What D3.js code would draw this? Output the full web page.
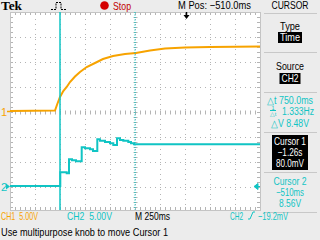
<!DOCTYPE html>
<html>
<head>
<meta charset="utf-8">
<script src="https://cdn.jsdelivr.net/npm/d3@7"></script>
<style>
body{margin:0;background:#ececec;}
svg{display:block;font-family:"Liberation Sans",Arial,sans-serif;}
svg text{white-space:pre;}
</style>
</head>
<body>
<svg width="320" height="240"></svg>
<script>
// CH1 (orange) samples: seconds, volts
const ch1Time  = [-1.76, -1.31, -1.287, -1.26, -1.227, -1.193, -1.16, -1.11, -1.06, -0.993, -0.91, -0.83, -0.73, -0.61, -0.50, -0.36, -0.21, -0.01, 0.24, 0.74];
const ch1Volts = [0.1, 0.2, 1.5, 2.9, 4.1, 4.9, 5.9, 7.0, 7.9, 8.9, 9.7, 10.5, 11.1, 11.5, 11.7, 12.2, 12.6, 12.8, 12.9, 13.0];

// CH2 (cyan) step trace: each level holds until the next time
const ch2Time  = [-1.76, -1.257, -1.193, -1.17, -1.14, -1.10, -1.043, -1.01, -0.96, -0.93, -0.887, -0.86, -0.81, -0.76, -0.727, -0.69, -0.66, -0.627, -0.577, -0.55, -0.52, 0.74];
const ch2Volts = [0.08, 2.84, 2.64, 5.44, 5.24, 5.04, 7.84, 7.64, 7.44, 7.1, 9.44, 9.16, 8.9, 8.64, 8.3, 9.64, 9.3, 9.16, 8.9, 8.64, 8.44, 8.44];

const timeDomain = [-1.76, 0.74];   // 10 div x 250ms, M Pos -510ms at centre
const voltDomain = [-20, 20];       // 8 div x 5V
const ch1Offset = 0, ch2Offset = -15;
const cursorTimes = [-1.26, -0.51];
const trigTime = 0;

const readout = [
  {t: "Type", box: false}, {t: "Time", box: true},
  {t: "Source", box: false}, {t: "CH2", box: true}
];
const deltaLines = ["\u25b3t 750.0ms", "1.333Hz", "\u25b3V 8.48V"];
const cursor1Lines = ["Cursor 1", "\u22121.26s", "80.0mV"];
const cursor2Lines = ["Cursor 2", "\u2212510ms", "8.56V"];

const orange = "#f7a300", cyan = "#10c4c4", grid = "#b4b4b4";
const plotLeft = 10, plotRight = 260, plotTop = 12, plotBottom = 210;

const svg = d3.select("svg");

const x = d3.scaleLinear().domain(timeDomain).range([plotLeft, plotRight]);
const y = d3.scaleLinear().domain(voltDomain).range([211.5, 11.5]);

function label(g, px, py, str, w, color, anchor, size) {
  const t = g.append("text")
    .attr("x", px).attr("y", py)
    .attr("font-size", (size || 11) + "px")
    .attr("fill", color || "#000")
    .attr("text-anchor", anchor || "start")
    .text(str);
  if (w) t.attr("textLength", w).attr("lengthAdjust", "spacingAndGlyphs");
  return t;
}

// plot background
svg.append("rect")
  .attr("x", plotLeft).attr("y", plotTop)
  .attr("width", plotRight - plotLeft).attr("height", plotBottom - plotTop)
  .attr("fill", "#fff");

// graticule
const g = svg.append("g");
const xTicks = d3.range(1, 10).map(i => timeDomain[0] + i * 0.25);
const yTicks = d3.range(-15, 20, 5);
g.selectAll(".vgrid").data(xTicks).enter().append("line")
  .attr("x1", d => Math.round(x(d)) + 0.5).attr("x2", d => Math.round(x(d)) + 0.5)
  .attr("y1", plotTop).attr("y2", plotBottom)
  .attr("stroke", grid).attr("stroke-dasharray", "1,4").attr("stroke-dashoffset", -2);
g.selectAll(".hgrid").data(yTicks).enter().append("line")
  .attr("y1", d => Math.round(y(d)) + 0.5).attr("y2", d => Math.round(y(d)) + 0.5)
  .attr("x1", plotLeft).attr("x2", plotRight)
  .attr("stroke", grid).attr("stroke-dasharray", "1,4").attr("stroke-dashoffset", 0);

// minor ticks on border and centre lines
const minorX = d3.range(plotLeft + 5, plotRight, 5);
const minorY = d3.range(plotTop + 5, plotBottom, 5);
const cx = Math.round(x((timeDomain[0] + timeDomain[1]) / 2)) + 0.5;
const cy = Math.round(y(0)) + 0.5;
[[plotTop, 1], [plotBottom, -1], [cy, 0]].forEach(([yy, dir]) => {
  g.selectAll(null).data(minorX).enter().append("line")
    .attr("x1", d => d + 0.5).attr("x2", d => d + 0.5)
    .attr("y1", dir === 0 ? yy - 2 : yy).attr("y2", dir === 0 ? yy + 2 : yy + dir * 3)
    .attr("stroke", grid);
});
[[plotLeft, 1], [plotRight, -1], [cx, 0]].forEach(([xx, dir]) => {
  g.selectAll(null).data(minorY).enter().append("line")
    .attr("y1", d => d + 0.5).attr("y2", d => d + 0.5)
    .attr("x1", dir === 0 ? xx - 2 : xx).attr("x2", dir === 0 ? xx + 2 : xx + dir * 3)
    .attr("stroke", grid);
});

svg.append("rect")
  .attr("x", plotLeft + 0.5).attr("y", plotTop + 0.5)
  .attr("width", plotRight - plotLeft).attr("height", plotBottom - plotTop)
  .attr("fill", "none").attr("stroke", "#c4c4c4");

// traces
const ch1 = ch1Time.map((t, i) => ({t: t, v: ch1Volts[i] + ch1Offset}));
const ch2 = ch2Time.map((t, i) => ({t: t, v: ch2Volts[i] + ch2Offset}));

svg.append("path").datum(ch1)
  .attr("d", d3.line().x(d => x(d.t)).y(d => y(d.v)))
  .attr("fill", "none").attr("stroke", orange).attr("stroke-width", 2);

svg.append("path").datum(ch2)
  .attr("d", d3.line().curve(d3.curveStepAfter).x(d => x(d.t)).y(d => y(d.v)))
  .attr("fill", "none").attr("stroke", cyan).attr("stroke-width", 2);

// cursors
svg.append("line")
  .attr("x1", x(cursorTimes[0])).attr("x2", x(cursorTimes[0]))
  .attr("y1", plotTop).attr("y2", plotBottom)
  .attr("stroke", cyan).attr("stroke-width", 1.5);
svg.append("line")
  .attr("x1", x(cursorTimes[1])).attr("x2", x(cursorTimes[1]))
  .attr("y1", plotTop).attr("y2", plotBottom)
  .attr("stroke", cyan).attr("stroke-width", 1.2).attr("stroke-dasharray", "1,1.5");

// channel ground markers
const g1y = y(ch1Offset), g2y = y(ch2Offset);
label(svg, 1, g1y + 4, "1", 0, orange);
svg.append("path").attr("d", `M7,${g1y}L10,${g1y}`).attr("stroke", orange).attr("stroke-width", 1.5);
label(svg, 1, g2y + 4, "2", 0, cyan);
svg.append("path").attr("d", `M6,${g2y - 3}L10,${g2y}L6,${g2y + 3}Z`).attr("fill", cyan);

// trigger level (right) and trigger position (top)
svg.append("path").attr("d", `M254,${g2y}L258,${g2y - 3}L258,${g2y + 3}Z M258,${g2y}L260,${g2y}`)
  .attr("fill", cyan).attr("stroke", cyan);
const tx = Math.round(x(trigTime)) + 0.5;
svg.append("path").attr("d", `M${tx},12L${tx},17`).attr("stroke", "#000").attr("stroke-width", 1.5);
svg.append("path").attr("d", `M${tx - 3},15L${tx + 3},15L${tx},19Z`).attr("fill", "#000");

// header
svg.append("text").attr("x", 1).attr("y", 10)
  .attr("font-family", "Liberation Serif, serif").attr("font-weight", "bold")
  .attr("font-size", "12px").attr("textLength", 21).attr("lengthAdjust", "spacingAndGlyphs")
  .text("Tek");
svg.append("path")
  .attr("d", "M51,9.5L56,9.5L56,2.5L61,2.5L61,9.5L67,9.5")
  .attr("fill", "none").attr("stroke", "#000").attr("stroke-dasharray", "2,1");
svg.append("circle").attr("cx", 104.5).attr("cy", 5.5).attr("r", 4.3).attr("fill", "#d40000");
label(svg, 113, 10, "Stop", 18, "#c00000");
label(svg, 178, 9, "M Pos: \u2212510.0ms", 73);

// right menu
const mx = 290;
const sep = [13, 52, 92, 132, 172, 212];
svg.selectAll(".sep").data(sep).enter().append("line")
  .attr("x1", 264).attr("x2", 317)
  .attr("y1", d => d + 0.5).attr("y2", d => d + 0.5)
  .attr("stroke", "#c8c8c8");
label(svg, mx, 9, "CURSOR", 37, "#000", "middle", 10);

const readY = [30, 41, 70, 82];
const readW = [20, 20, 28, 17];
readout.forEach((r, i) => {
  if (r.box) {
    svg.append("rect").attr("x", mx - readW[i] / 2 - 2).attr("y", readY[i] - 9)
      .attr("width", readW[i] + 4).attr("height", 11).attr("fill", "#000");
  }
  label(svg, mx, readY[i], r.t, readW[i], r.box ? "#fff" : "#000", "middle", 10.5);
});

label(svg, mx, 104, deltaLines[0], 46, cyan, "middle", 10);
label(svg, mx + 8, 115, deltaLines[1], 32, cyan, "middle", 10);
svg.append("text").attr("x", 273).attr("y", 109.5).attr("font-size", "5.5px").attr("fill", cyan)
  .attr("text-anchor", "middle").text("1");
svg.append("line").attr("x1", 270).attr("x2", 276).attr("y1", 110.5).attr("y2", 110.5).attr("stroke", cyan);
svg.append("text").attr("x", 273).attr("y", 115.5).attr("font-size", "5.5px").attr("fill", cyan)
  .attr("text-anchor", "middle").text("\u25b3t");
label(svg, mx, 127, deltaLines[2], 38, cyan, "middle", 10);

svg.append("rect").attr("x", 272).attr("y", 135).attr("width", 36).attr("height", 35).attr("fill", "#000");
const cW = [32, 25, 28];
cursor1Lines.forEach((s, i) => label(svg, mx, 145 + i * 11, s, cW[i], "#fff", "middle", 10.5));
const c2W = [33, 28, 22];
cursor2Lines.forEach((s, i) => label(svg, mx, 185 + i * 11, s, c2W[i], cyan, "middle", 10.5));

// footer
label(svg, 1, 220, "CH1  5.00V", 37, orange);
label(svg, 67, 220, "CH2  5.00V", 45, cyan);
label(svg, 135, 220, "M 250ms", 35);
label(svg, 230, 220, "CH2", 13, cyan);
svg.append("path").attr("d", "M248,219L250,219L253,212L255,212").attr("fill", "none").attr("stroke", cyan);
label(svg, 258, 220, "\u221219.2mV", 30, cyan);
label(svg, 1, 236, "Use multipurpose knob to move Cursor 1", 167);
</script>
</body>
</html>
